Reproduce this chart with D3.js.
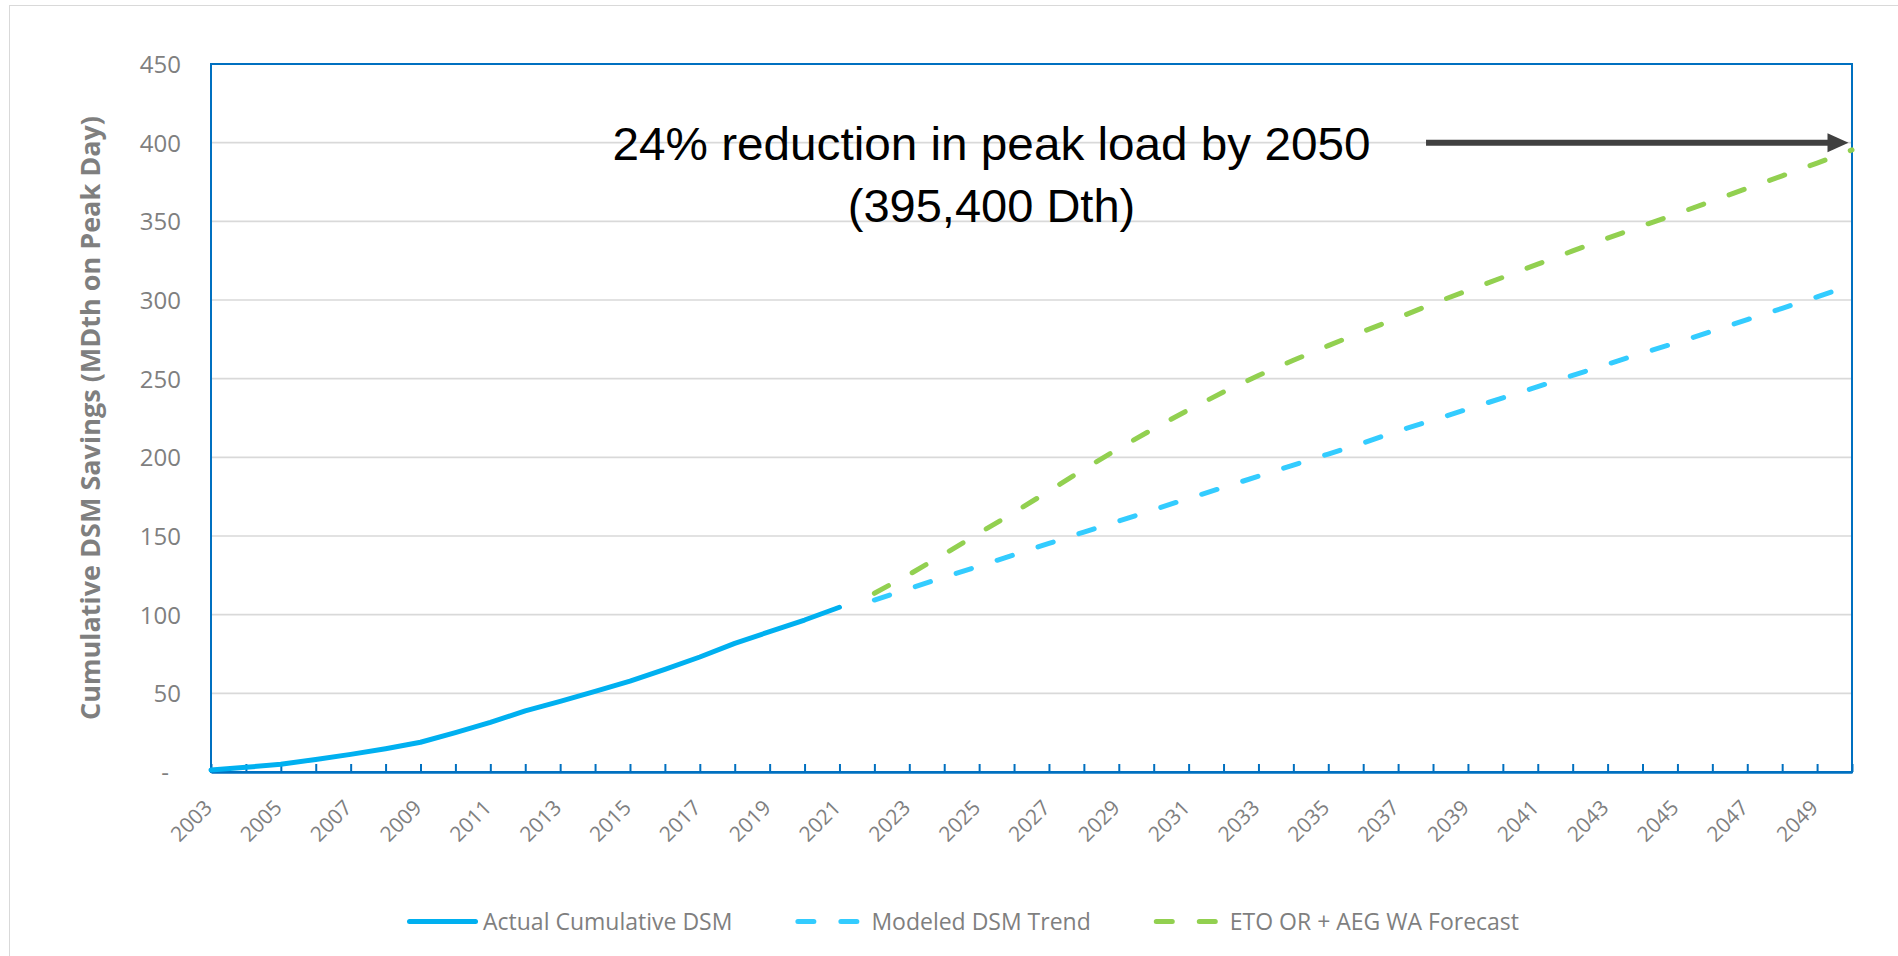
<!DOCTYPE html>
<html>
<head>
<meta charset="utf-8">
<script src="https://cdn.jsdelivr.net/npm/d3@7"></script>
<style>
  html, body { margin: 0; padding: 0; background: #ffffff; }
  svg { display: block; }
</style>
</head>
<body>
<svg id="chart" width="1898" height="956"></svg>
<script>
// Category axis: every year shown on the x axis
const years = [2003, 2004, 2005, 2006, 2007, 2008, 2009, 2010, 2011, 2012, 2013, 2014, 2015, 2016,
  2017, 2018, 2019, 2020, 2021, 2022, 2023, 2024, 2025, 2026, 2027, 2028, 2029, 2030, 2031, 2032,
  2033, 2034, 2035, 2036, 2037, 2038, 2039, 2040, 2041, 2042, 2043, 2044, 2045, 2046, 2047, 2048,
  2049, 2050];
const yearLabels = [2003, 2005, 2007, 2009, 2011, 2013, 2015, 2017, 2019, 2021, 2023, 2025, 2027,
  2029, 2031, 2033, 2035, 2037, 2039, 2041, 2043, 2045, 2047, 2049];
const yTicks = [0, 50, 100, 150, 200, 250, 300, 350, 400, 450];

// Actual cumulative DSM savings, 2003-2021 (MDth on peak day)
const actualYears = [2003, 2004, 2005, 2006, 2007, 2008, 2009, 2010, 2011, 2012, 2013, 2014, 2015,
  2016, 2017, 2018, 2019, 2020, 2021];
const actualValues = [1.3, 3.0, 4.9, 8.0, 11.2, 14.8, 18.9, 25.0, 31.6, 38.8, 44.9, 51.3, 57.8,
  65.3, 73.1, 81.8, 89.2, 96.6, 104.7];

// Forecast horizon, 2022-2050
const forecastYears = [2022, 2023, 2024, 2025, 2026, 2027, 2028, 2029, 2030, 2031, 2032, 2033,
  2034, 2035, 2036, 2037, 2038, 2039, 2040, 2041, 2042, 2043, 2044, 2045, 2046, 2047, 2048, 2049, 2050];
const modeledValues = [109.3, 116.6, 123.8, 130.9, 138.0, 145.3, 152.5, 159.5, 166.7, 173.9, 180.9,
  188.0, 195.1, 202.1, 209.1, 216.8, 223.6, 230.7, 237.8, 244.9, 252.1, 259.2, 266.3, 273.0, 280.2,
  287.5, 294.7, 302.0, 309.5];
const etoAegValues = [113.6, 125.6, 138.5, 151.8, 165.0, 178.6, 192.5, 205.6, 218.2, 230.2, 241.5,
  252.0, 261.7, 271.0, 280.0, 288.7, 297.7, 306.1, 314.4, 322.8, 331.2, 339.3, 347.2, 354.9, 363.0,
  371.0, 378.9, 387.0, 395.4];

const seriesNames = ["Actual Cumulative DSM", "Modeled DSM Trend", "ETO OR + AEG WA Forecast"];
const annotationLines = ["24% reduction in peak load by 2050", "(395,400 Dth)"];
const annotationArrowValue = 400;
const annotationArrowYears = [2037.8, 2049.9];

// ---- layout ----
const plot = { left: 211, right: 1852, top: 64, bottom: 772 };
const BLUE_AXIS = "#0070C0";
const GRAY_TEXT = "#7F7F7F";
const COLORS = ["#00B0F0", "#33CCFF", "#92D050"];
const DASH = "16 27";

const svg = d3.select("#chart");

// light outer chart frame
svg.append("rect")
  .attr("x", 9.5).attr("y", 5.5)
  .attr("width", 2000).attr("height", 2000)
  .attr("fill", "none").attr("stroke", "#D9D9D9").attr("stroke-width", 1);

const x = d3.scalePoint().domain(years).range([plot.left, plot.right]).padding(0);
const xNum = d3.scaleLinear().domain([years[0], years[years.length - 1]]).range([plot.left, plot.right]);
const y = d3.scaleLinear().domain([0, 450]).range([plot.bottom, plot.top]);

// horizontal gridlines
svg.append("g")
  .selectAll("line")
  .data(yTicks.filter(v => v > 0))
  .join("line")
  .attr("x1", plot.left).attr("x2", plot.right)
  .attr("y1", d => y(d)).attr("y2", d => y(d))
  .attr("stroke", "#D9D9D9").attr("stroke-width", 1.6);

// y axis labels
const yAxis = d3.axisLeft(y)
  .tickValues(yTicks)
  .tickSize(0)
  .tickPadding(30)
  .tickFormat(d => d === 0 ? "-" : d3.format(",")(d));
const gy = svg.append("g").attr("transform", `translate(${plot.left},0)`).call(yAxis);
gy.select(".domain").remove();
gy.selectAll("text")
  .attr("fill", GRAY_TEXT)
  .attr("font-family", "'Open Sans', sans-serif")
  .attr("font-size", 24)
  .attr("dy", "0.35em")
  .attr("dx", d => d === 0 ? -12 : 0);

// plot area frame
svg.append("rect")
  .attr("x", plot.left).attr("y", plot.top)
  .attr("width", plot.right - plot.left).attr("height", plot.bottom - plot.top)
  .attr("fill", "none").attr("stroke", BLUE_AXIS).attr("stroke-width", 2);

// x axis with inward ticks on every year
const xAxis = d3.axisBottom(x)
  .tickSizeInner(-8)
  .tickSizeOuter(0)
  .tickFormat(d => yearLabels.includes(d) ? String(d) : "");
const gx = svg.append("g").attr("transform", `translate(0,${plot.bottom})`).call(xAxis);
gx.select(".domain").attr("stroke", BLUE_AXIS).attr("stroke-width", 2.4);
gx.selectAll(".tick line").attr("stroke", BLUE_AXIS).attr("stroke-width", 2);
gx.selectAll("text")
  .attr("fill", GRAY_TEXT)
  .attr("font-family", "'Open Sans', sans-serif")
  .attr("font-size", 21)
  .attr("text-anchor", "end")
  .attr("x", 0).attr("y", 0).attr("dy", 0)
  .attr("transform", "translate(2,37) rotate(-45)");

// y axis title
svg.append("text")
  .attr("transform", `translate(100,${(plot.top + plot.bottom) / 2}) rotate(-90)`)
  .attr("text-anchor", "middle")
  .attr("fill", GRAY_TEXT)
  .attr("font-family", "'Open Sans', sans-serif")
  .attr("font-weight", "bold")
  .attr("font-size", 27)
  .text("Cumulative DSM Savings (MDth on Peak Day)");

// series lines
const line = d3.line().x(d => x(d[0])).y(d => y(d[1]));
const series = [
  { pts: d3.zip(actualYears, actualValues), color: COLORS[0], dash: null },
  { pts: d3.zip(forecastYears, etoAegValues), color: COLORS[2], dash: DASH },
  { pts: d3.zip(forecastYears, modeledValues), color: COLORS[1], dash: DASH }
];
svg.append("g")
  .selectAll("path")
  .data(series)
  .join("path")
  .attr("d", d => line(d.pts))
  .attr("fill", "none")
  .attr("stroke", d => d.color)
  .attr("stroke-width", 5)
  .attr("stroke-linecap", "round")
  .attr("stroke-linejoin", "round")
  .attr("stroke-dasharray", d => d.dash);

// annotation text and arrow
const ann = svg.append("g")
  .attr("font-family", "'Liberation Sans', Arial, sans-serif")
  .attr("font-size", 47)
  .attr("fill", "#000000")
  .attr("text-anchor", "middle");
ann.append("text").attr("x", 991.5).attr("y", 159.5)
  .attr("textLength", 758).attr("lengthAdjust", "spacingAndGlyphs")
  .text(annotationLines[0]);
ann.append("text").attr("x", 991.5).attr("y", 221.5).text(annotationLines[1]);

const ay = y(annotationArrowValue);
const ax0 = xNum(annotationArrowYears[0]);
const ax1 = xNum(annotationArrowYears[1]);
svg.append("line")
  .attr("x1", ax0).attr("x2", ax1 - 18)
  .attr("y1", ay).attr("y2", ay)
  .attr("stroke", "#404040").attr("stroke-width", 6);
svg.append("path")
  .attr("d", `M${ax1},${ay} L${ax1 - 21},${ay - 9.5} L${ax1 - 21},${ay + 9.5} Z`)
  .attr("fill", "#404040");

// legend
const legend = svg.append("g")
  .attr("font-family", "'Open Sans', sans-serif")
  .attr("font-size", 23)
  .attr("fill", GRAY_TEXT);
const legY = 921.5;
let lx = 407;
seriesNames.forEach((name, i) => {
  const dash = i === 0 ? null : DASH;
  legend.append("path")
    .attr("d", `M${lx + 2.5},${legY} H${lx + 68.5}`)
    .attr("stroke", COLORS[i])
    .attr("stroke-width", 5)
    .attr("stroke-linecap", "round")
    .attr("stroke-dasharray", dash);
  const t = legend.append("text")
    .attr("x", lx + 76)
    .attr("y", legY)
    .attr("dy", "0.35em")
    .text(name);
  lx = lx + 76 + t.node().getComputedTextLength() + 63;
});
</script>
</body>
</html>
